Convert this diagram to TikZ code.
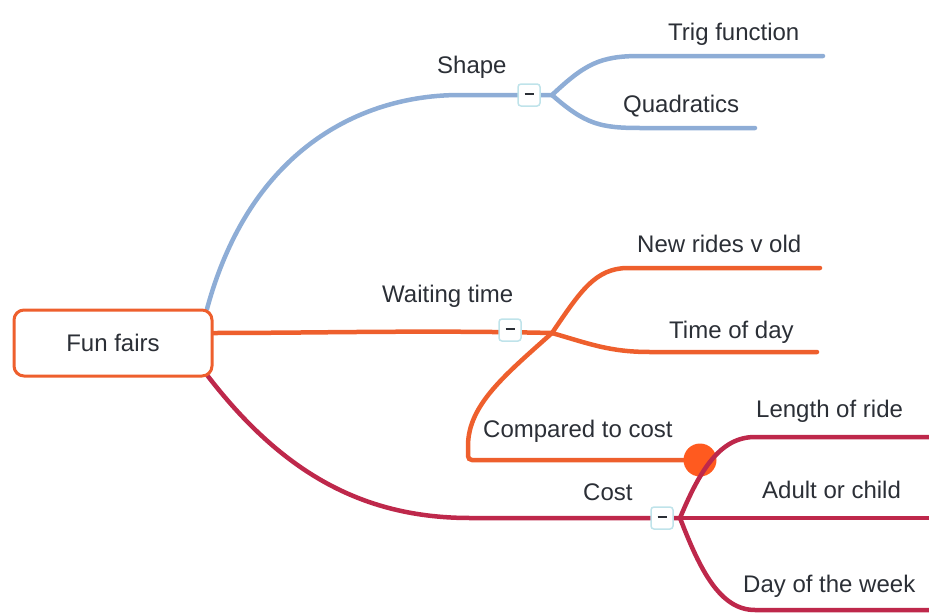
\documentclass[tikz,border=0pt]{standalone}
\usepackage{fontspec}
\setmainfont{Liberation Sans}
\usepackage{tikz}

\definecolor{shapeblue}{HTML}{8EADD6}
\definecolor{waitorange}{HTML}{EE5F2D}
\definecolor{costred}{HTML}{BE284B}
\definecolor{dotorange}{HTML}{FF5A1F}
\definecolor{inkgray}{HTML}{2B2F36}
\definecolor{toggleline}{HTML}{BFE3EA}

\tikzset{
  branch/.style={line width=4.5pt, line cap=round},
  topic/.style={anchor=base west, inner sep=0pt, text=inkgray,
    font=\fontsize{24}{28}\selectfont},
  toggle/.style={draw=toggleline, fill=white, line width=1.5pt,
    rounded corners=3pt, minimum size=22pt, inner sep=0pt, text=inkgray},
  rootbox/.style={draw=waitorange, fill=white, line width=3pt,
    rounded corners=10pt, minimum width=198pt, minimum height=66pt,
    text=inkgray, font=\fontsize{24}{28}\selectfont}
}

\begin{document}
\begin{tikzpicture}[x=1pt, y=-1pt]
\useasboundingbox (0,0) rectangle (929,613);

\coordinate (blueStart) at (207,309);
\coordinate (orangeStart) at (211,333);
\coordinate (redStart) at (207,375);
\coordinate (shapeJoin) at (552,95);
\coordinate (waitJoin) at (552,333);
\coordinate (costJoin) at (680,518);
\coordinate (trigEnd) at (823,56);
\coordinate (quadEnd) at (755,128);
\coordinate (newEnd) at (820,268);
\coordinate (timeEnd) at (817,352);
\coordinate (cornerPt) at (468,460);
\coordinate (lengthEnd) at (929,437);
\coordinate (adultEnd) at (929,518);
\coordinate (dayEnd) at (929,610);

% shape
\draw[branch, shapeblue] (blueStart) .. controls (250,150) and (360,95) .. (460,95) -- (shapeJoin);
\draw[branch, shapeblue] (shapeJoin) .. controls (585,64) and (600,56) .. (640,56) -- (trigEnd);
\draw[branch, shapeblue] (shapeJoin) .. controls (585,124) and (600,128) .. (640,128) -- (quadEnd);

% waiting time
\draw[branch, waitorange] (orangeStart) .. controls (320,333) and (420,330) .. (waitJoin);
\draw[branch, waitorange] (waitJoin) .. controls (580,292) and (595,268) .. (628,268) -- (newEnd);
\draw[branch, waitorange] (waitJoin) .. controls (590,344) and (610,352) .. (650,352) -- (timeEnd);
\draw[branch, waitorange, rounded corners=4pt] (waitJoin) .. controls (505,375) and (468,405) .. (468,450) -- (cornerPt) -- (700,460);
\node[circle, fill=dotorange, minimum size=33pt, inner sep=0pt] (costDot) at (700,460) {};

% cost
\draw[branch, costred] (redStart) .. controls (280,470) and (360,518) .. (470,518) -- (costJoin);
\draw[branch, costred] (costJoin) .. controls (700,470) and (720,437) .. (755,437) -- (lengthEnd);
\draw[branch, costred] (costJoin) -- (adultEnd);
\draw[branch, costred] (costJoin) .. controls (700,570) and (720,610) .. (755,610) -- (dayEnd);

\node[rootbox] (fun) at (113,343) {Fun fairs};
\node[toggle] (shapeBox) at (529,95) {\rule[2.5pt]{9pt}{2pt}};
\node[toggle] (waitBox) at (510,330) {\rule[2.5pt]{9pt}{2pt}};
\node[toggle] (costBox) at (662,518) {\rule[2.5pt]{9pt}{2pt}};

\node[topic] (shapeLbl) at (437,73) {Shape};
\node[topic] (trigLbl) at (668,40) {Trig function};
\node[topic] (quadLbl) at (623,112) {Quadratics};
\node[topic] (waitLbl) at (382,302) {Waiting time};
\node[topic] (newLbl) at (637,252) {New rides v old};
\node[topic] (timeLbl) at (669,338) {Time of day};
\node[topic] (compLbl) at (483,437) {Compared to cost};
\node[topic] (costLbl) at (583,500) {Cost};
\node[topic] (lengthLbl) at (756,417) {Length of ride};
\node[topic] (adultLbl) at (762,498) {Adult or child};
\node[topic] (dayLbl) at (743,592) {Day of the week};
\end{tikzpicture}
\end{document}
